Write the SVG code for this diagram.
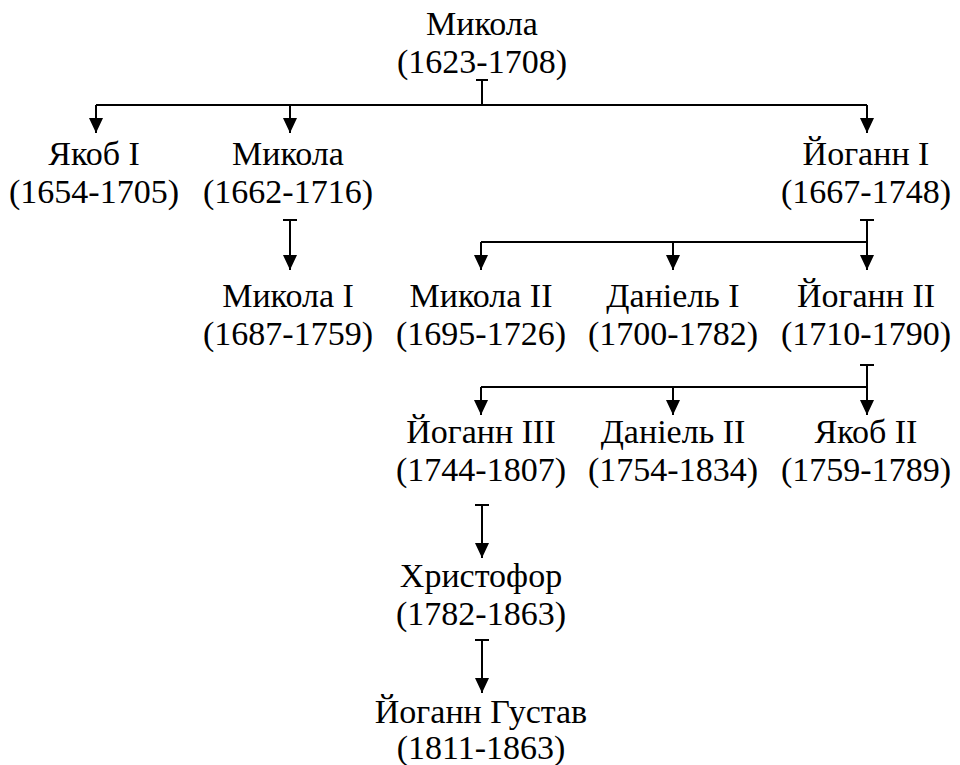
<svg xmlns="http://www.w3.org/2000/svg" width="960" height="765" viewBox="0 0 960 765">
<style>
svg text, #nodes text, text{font-family:'Liberation Serif','Times New Roman',serif !important;font-size:34px;fill:#000;text-anchor:middle}
.c{fill:none;stroke:#000;stroke-width:2}
</style>
<defs>
<marker id="ar" markerUnits="userSpaceOnUse" markerWidth="16" markerHeight="15" refX="15" refY="7" orient="auto" overflow="visible">
<path d="M0,0 L15,7 L0,14 z" fill="#000"/>
</marker>
</defs>
<rect width="960" height="765" fill="#fff"/>
<g id="connectors" class="c">
<path class="c" d="M476,80 H488 M482,80 V105 M96,105 H867"/>
<path class="c" d="M96,105 V133" marker-end="url(#ar)"/>
<path class="c" d="M290,105 V133" marker-end="url(#ar)"/>
<path class="c" d="M867,105 V133" marker-end="url(#ar)"/>
<path class="c" d="M283,220 H297"/>
<path class="c" d="M290,220 V270" marker-end="url(#ar)"/>
<path class="c" d="M860,220 H874 M867,220 V242 M481,242 H867"/>
<path class="c" d="M481,242 V270" marker-end="url(#ar)"/>
<path class="c" d="M673,242 V270" marker-end="url(#ar)"/>
<path class="c" d="M867,220 V270" marker-end="url(#ar)"/>
<path class="c" d="M860,365 H874 M867,365 V387 M481,387 H867"/>
<path class="c" d="M481,387 V415" marker-end="url(#ar)"/>
<path class="c" d="M673,387 V415" marker-end="url(#ar)"/>
<path class="c" d="M867,365 V415" marker-end="url(#ar)"/>
<path class="c" d="M475,505 H489"/>
<path class="c" d="M482,505 V558" marker-end="url(#ar)"/>
<path class="c" d="M475,640 H489"/>
<path class="c" d="M482,640 V693" marker-end="url(#ar)"/>
</g>
<g id="nodes" font-family="Liberation Serif, serif">
<g id="n-mykola0"><text x="482" y="35" style="font-family:'Liberation Serif',serif !important">Микола</text><text x="482" y="73" style="font-family:'Liberation Serif',serif !important">(1623-1708)</text></g>
<g id="n-yakob1"><text x="94" y="165" style="font-family:'Liberation Serif',serif !important">Якоб I</text><text x="94" y="203" style="font-family:'Liberation Serif',serif !important">(1654-1705)</text></g>
<g id="n-mykola"><text x="288" y="165" style="font-family:'Liberation Serif',serif !important">Микола</text><text x="288" y="203" style="font-family:'Liberation Serif',serif !important">(1662-1716)</text></g>
<g id="n-yohann1"><text x="866" y="165" style="font-family:'Liberation Serif',serif !important">Йоганн I</text><text x="866" y="203" style="font-family:'Liberation Serif',serif !important">(1667-1748)</text></g>
<g id="n-mykola1"><text x="288" y="307" style="font-family:'Liberation Serif',serif !important">Микола I</text><text x="288" y="345" style="font-family:'Liberation Serif',serif !important">(1687-1759)</text></g>
<g id="n-mykola2"><text x="481" y="307" style="font-family:'Liberation Serif',serif !important">Микола II</text><text x="481" y="345" style="font-family:'Liberation Serif',serif !important">(1695-1726)</text></g>
<g id="n-daniel1"><text x="673" y="307" style="font-family:'Liberation Serif',serif !important">Даніель I</text><text x="673" y="345" style="font-family:'Liberation Serif',serif !important">(1700-1782)</text></g>
<g id="n-yohann2"><text x="866" y="307" style="font-family:'Liberation Serif',serif !important">Йоганн II</text><text x="866" y="345" style="font-family:'Liberation Serif',serif !important">(1710-1790)</text></g>
<g id="n-yohann3"><text x="481" y="443" style="font-family:'Liberation Serif',serif !important">Йоганн III</text><text x="481" y="481" style="font-family:'Liberation Serif',serif !important">(1744-1807)</text></g>
<g id="n-daniel2"><text x="673" y="443" style="font-family:'Liberation Serif',serif !important">Даніель II</text><text x="673" y="481" style="font-family:'Liberation Serif',serif !important">(1754-1834)</text></g>
<g id="n-yakob2"><text x="866" y="443" style="font-family:'Liberation Serif',serif !important">Якоб II</text><text x="866" y="481" style="font-family:'Liberation Serif',serif !important">(1759-1789)</text></g>
<g id="n-khrystofor"><text x="481" y="587" style="font-family:'Liberation Serif',serif !important">Христофор</text><text x="481" y="625" style="font-family:'Liberation Serif',serif !important">(1782-1863)</text></g>
<g id="n-yohann-gustav"><text x="481" y="723" style="font-family:'Liberation Serif',serif !important">Йоганн Густав</text><text x="481" y="759" style="font-family:'Liberation Serif',serif !important">(1811-1863)</text></g>
</g>
</svg>
